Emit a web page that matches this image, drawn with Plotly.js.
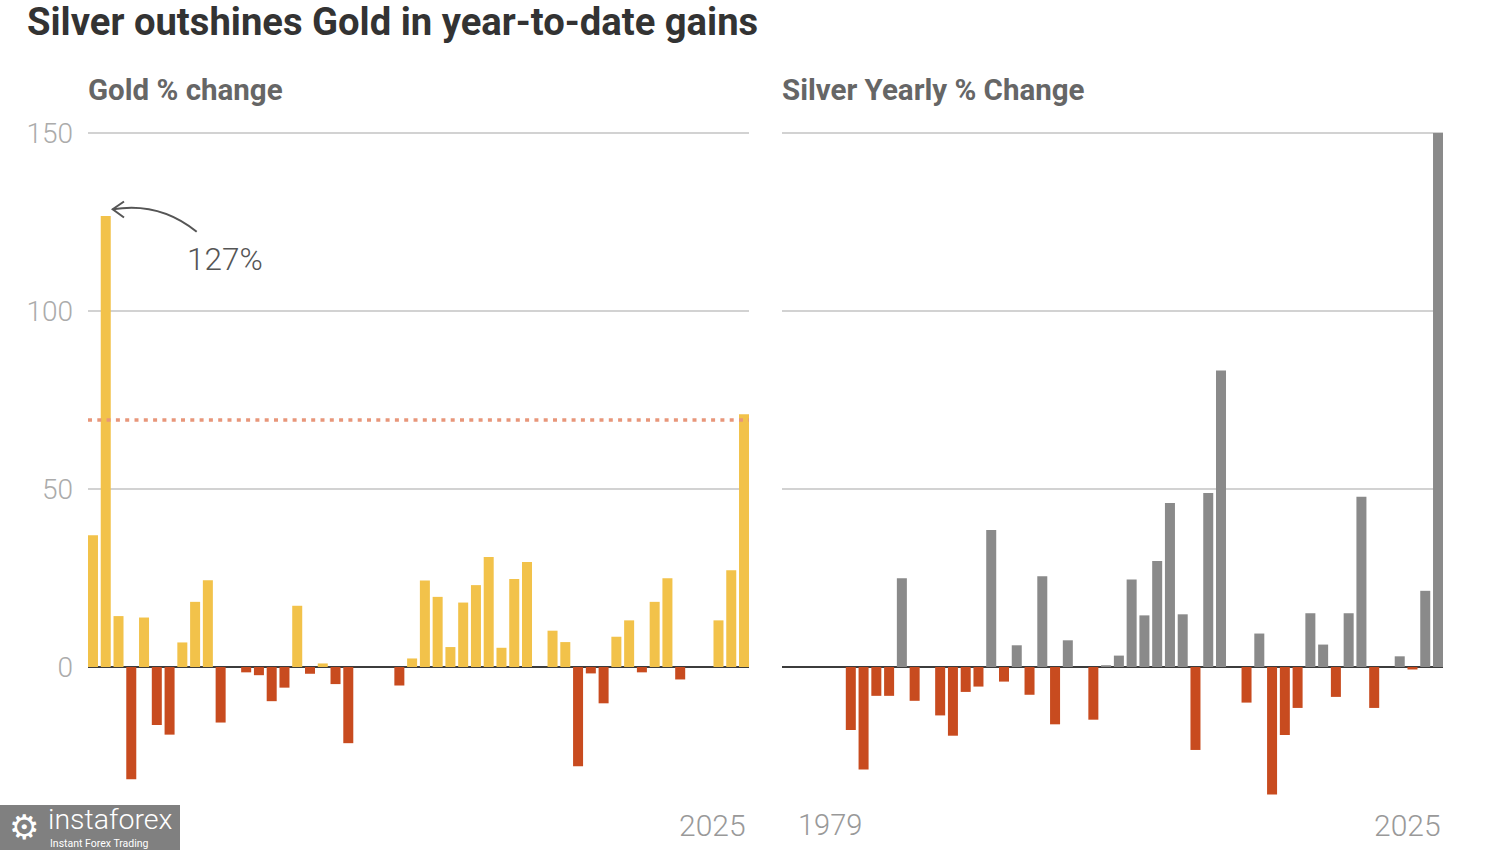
<!DOCTYPE html>
<html>
<head>
<meta charset="utf-8">
<script src="https://cdn.plot.ly/plotly-3.0.1.min.js"></script>
<style>
  html, body { margin: 0; padding: 0; background: #ffffff; }
  #chart { width: 1500px; height: 850px; }
</style>
</head>
<body>
<div id="chart"></div>
<script>
// ---- Data ----
// Slots along the x axis; null = empty spacer slot in the original chart
const slotYears = [
  1978, 1979, 1980, 1981, 1982, 1983, 1984, 1985, 1986, 1987, 1988, null,
  1989, 1990, 1991, 1992, 1993, 1994, 1995, 1996, 1997, 1998, 1999, null,
  2000, 2001, 2002, 2003, 2004, 2005, 2006, 2007, 2008, 2009, 2010, null,
  2011, 2012, 2013, 2014, 2015, 2016, 2017, 2018, 2019, 2020, 2021, null,
  2022, 2023, 2024, 2025
];

const goldChange = [
  37.0, 126.7, 14.3, -31.5, 13.9, -16.3, -19.0, 6.9, 18.3, 24.4, -15.6, null,
  -1.5, -2.3, -9.6, -5.8, 17.2, -1.9, 1.0, -4.8, -21.4, 0, 0, null,
  -5.2, 2.4, 24.3, 19.7, 5.6, 18.1, 23.0, 30.9, 5.4, 24.7, 29.5, null,
  10.2, 7.0, -27.9, -1.8, -10.2, 8.5, 13.1, -1.5, 18.3, 24.9, -3.5, null,
  0, 13.1, 27.2, 71.0
];

const silverChange = [
  null, null, null, null, null, -17.7, -28.8, -8.1, -8.1, 24.9, -9.5, null,
  -13.6, -19.3, -7.0, -5.5, 38.5, -4.1, 6.1, -7.8, 25.5, -16.1, 7.5, null,
  -14.8, 0.5, 3.2, 24.6, 14.5, 29.8, 46.1, 14.8, -23.3, 48.9, 83.3, null,
  -10.0, 9.4, -35.8, -19.1, -11.5, 15.1, 6.3, -8.4, 15.1, 47.8, -11.5, null,
  3.0, -0.7, 21.4, 150.0
];

const goldYtdLevel = 69.4;          // dotted reference line
const goldPeakLabel = '127%';
const yTickValues = [0, 50, 100, 150];
const yTickLabels = ['0', '50', '100', '150'];
const firstYearLabel = '1979';
const lastYearLabel = '2025';

// ---- Styles ----
const W = 1500, H = 850;
const GOLD = '#F2C24A', RED = '#C84B1F', SILVER = '#8A8A8A';
const FONT = 'Roboto, "Open Sans", sans-serif';

const slotIndex = slotYears.map((_, i) => i);
const hoverYears = slotYears.map(y => (y === null ? '' : String(y)));

function colorsFor(values, posColor) {
  return values.map(v => (v !== null && v < 0 ? RED : posColor));
}

const traces = [
  {
    type: 'bar', x: slotIndex, y: goldChange, xaxis: 'x', yaxis: 'y',
    marker: { color: colorsFor(goldChange, GOLD) },
    text: hoverYears, hovertemplate: '%{text}: %{y}%<extra>Gold</extra>',
    textposition: 'none'
  },
  {
    type: 'bar', x: slotIndex, y: silverChange, xaxis: 'x2', yaxis: 'y2',
    marker: { color: colorsFor(silverChange, SILVER) },
    text: hoverYears, hovertemplate: '%{text}: %{y}%<extra>Silver</extra>',
    textposition: 'none'
  }
];

// pixel -> paper helpers
const px = v => v / W;
const py = v => 1 - v / H;

const yRange = [-40, 152];
const yDomain = [py(667 + 40 * 3.56), py(133 - 2 * 3.56)];
const xRange = [-0.39, 51.39];

const baseX = {
  range: xRange, showgrid: false, zeroline: false, showticklabels: false,
  showline: false, ticks: '', fixedrange: true
};
const baseY = {
  range: yRange, domain: yDomain, tickvals: yTickValues, ticktext: yTickLabels,
  showgrid: true, gridcolor: '#d2d2d2', gridwidth: 1.6,
  zeroline: true, zerolinecolor: '#3c3c3c', zerolinewidth: 2.5,
  ticks: '', showline: false, fixedrange: true
};

const arrowPath =
  'M ' + px(196.7) + ',' + py(231.7) +
  ' Q ' + px(159.3) + ',' + py(201.5) + ' ' + px(112.7) + ',' + py(209.3);
const arrowHead =
  'M ' + px(124) + ',' + py(201.5) +
  ' L ' + px(112.7) + ',' + py(209.3) +
  ' L ' + px(124) + ',' + py(217.5);

const layout = {
  width: W, height: H,
  margin: { l: 0, r: 0, t: 0, b: 0, autoexpand: false },
  paper_bgcolor: '#ffffff', plot_bgcolor: '#ffffff',
  showlegend: false,
  bargap: 0.216,
  font: { family: FONT, color: '#333' },
  title: {
    text: 'Silver outshines Gold in year-to-date gains',
    x: px(27), xanchor: 'left', xref: 'container',
    y: py(22), yanchor: 'middle', yref: 'container',
    font: { family: FONT, size: 38.2, weight: 700, color: '#333333' }
  },
  xaxis: Object.assign({}, baseX, { domain: [px(88), px(749)], anchor: 'y' }),
  yaxis: Object.assign({}, baseY, {
    anchor: 'x', showticklabels: true, ticklabelstandoff: 14,
    tickfont: { family: FONT, size: 28, weight: 300, color: '#ababab' }
  }),
  xaxis2: Object.assign({}, baseX, { domain: [px(782), px(1443)], anchor: 'y2' }),
  yaxis2: Object.assign({}, baseY, { anchor: 'x2', showticklabels: false }),
  shapes: [
    { type: 'line', xref: 'x domain', yref: 'y', x0: 0, x1: 1,
      y0: goldYtdLevel, y1: goldYtdLevel, layer: 'above',
      line: { color: '#E8967A', width: 3.5, dash: '4px,5.3px' } },
    { type: 'path', xref: 'paper', yref: 'paper', path: arrowPath,
      line: { color: '#555555', width: 2 } },
    { type: 'path', xref: 'paper', yref: 'paper', path: arrowHead,
      line: { color: '#555555', width: 2 } },
    // watermark box
    { type: 'rect', xref: 'paper', yref: 'paper', layer: 'above',
      x0: 0, x1: px(180), y0: py(850), y1: py(805),
      fillcolor: '#808080', line: { width: 0 } }
  ],
  annotations: [
    { text: 'Gold % change', xref: 'paper', yref: 'paper',
      x: px(86), xanchor: 'left', y: py(90), yanchor: 'middle', showarrow: false,
      font: { family: FONT, size: 29.5, weight: 700, color: '#666666' } },
    { text: 'Silver Yearly % Change', xref: 'paper', yref: 'paper',
      x: px(780), xanchor: 'left', y: py(90), yanchor: 'middle', showarrow: false,
      font: { family: FONT, size: 29.5, weight: 700, color: '#666666' } },
    { text: goldPeakLabel, xref: 'paper', yref: 'paper',
      x: px(185), xanchor: 'left', y: py(259), yanchor: 'middle', showarrow: false,
      font: { family: FONT, size: 31.5, weight: 300, color: '#555555' } },
    { text: lastYearLabel, xref: 'paper', yref: 'paper',
      x: px(748), xanchor: 'right', y: py(825), yanchor: 'middle', showarrow: false,
      font: { family: FONT, size: 30, weight: 300, color: '#999999' } },
    { text: firstYearLabel, xref: 'paper', yref: 'paper',
      x: px(796), xanchor: 'left', y: py(825), yanchor: 'middle', showarrow: false,
      font: { family: FONT, size: 29, weight: 300, color: '#999999' } },
    { text: lastYearLabel, xref: 'paper', yref: 'paper',
      x: px(1443), xanchor: 'right', y: py(825), yanchor: 'middle', showarrow: false,
      font: { family: FONT, size: 30, weight: 300, color: '#999999' } },
    // watermark texts
    { text: '⚙', xref: 'paper', yref: 'paper',
      x: px(24), xanchor: 'center', y: py(827), yanchor: 'middle', showarrow: false,
      font: { family: '"DejaVu Sans", sans-serif', size: 34, color: '#ffffff' } },
    { text: 'instaforex', xref: 'paper', yref: 'paper',
      x: px(46), xanchor: 'left', y: py(819), yanchor: 'middle', showarrow: false,
      font: { family: FONT, size: 28.5, weight: 300, color: '#ffffff' } },
    { text: 'Instant Forex Trading', xref: 'paper', yref: 'paper',
      x: px(48), xanchor: 'left', y: py(843), yanchor: 'middle', showarrow: false,
      font: { family: FONT, size: 10.5, color: '#ffffff' } }
  ]
};

Plotly.newPlot('chart', traces, layout, { displayModeBar: false, staticPlot: true });
</script>
</body>
</html>
